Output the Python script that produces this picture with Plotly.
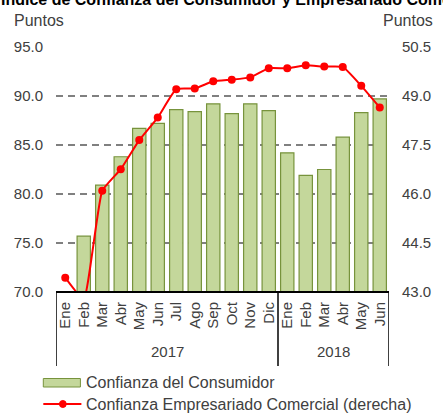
import plotly.graph_objects as go

months = ["Ene", "Feb", "Mar", "Abr", "May", "Jun", "Jul", "Ago", "Sep", "Oct", "Nov", "Dic",
          "Ene", "Feb", "Mar", "Abr", "May", "Jun"]
years = ["2017"] * 12 + ["2018"] * 6
year_labels = ["2017", "2018"]
consumidor = [69.5, 75.7, 80.9, 83.8, 86.7, 87.2, 88.6, 88.4, 89.2, 88.2, 89.2, 88.5,
              84.2, 81.9, 82.5, 85.8, 88.3, 89.7]
empresariado = [43.44, 42.78, 46.10, 46.76, 47.65, 48.34, 49.21, 49.23, 49.45, 49.50, 49.57, 49.85,
                49.85, 49.94, 49.90, 49.89, 49.31, 48.65]
left_range = [70, 95]
right_range = [43, 50.5]

xidx = list(range(len(months)))

FONT = "Liberation Sans, Arial, sans-serif"
TXT = "#404040"

fig = go.Figure()
fig.add_trace(go.Bar(
    x=xidx, y=consumidor, name="Confianza del Consumidor",
    marker=dict(color="#c4d79b", line=dict(color="#77933c", width=1.2)),
    showlegend=False,
))
fig.add_trace(go.Scatter(
    x=xidx, y=empresariado, yaxis="y2", mode="lines+markers",
    name="Confianza Empresariado Comercial (derecha)",
    line=dict(color="#ff0000", width=2, shape="spline", smoothing=0.4),
    marker=dict(color="#ff0000", size=8),
    showlegend=False,
))

def px_x(p):
    return (p - 56) / 341.0

def px_y(p):
    return (292 - p) / 245.0

shapes = []
for xv in [-0.5, 11.5, 17.5]:
    shapes.append(dict(type="line", xref="x", yref="paper", x0=xv, x1=xv,
                       y0=0, y1=px_y(366), line=dict(color="black", width=1.5)))
shapes.append(dict(type="line", xref="x", yref="paper", x0=-0.5, x1=17.5,
                   y0=0, y1=0, line=dict(color="black", width=2)))
# legend glyphs
shapes.append(dict(type="rect", xref="paper", yref="paper",
                   x0=px_x(43), x1=px_x(81), y0=px_y(378.5), y1=px_y(387),
                   fillcolor="#c4d79b", line=dict(color="#77933c", width=1)))
shapes.append(dict(type="line", xref="paper", yref="paper",
                   x0=px_x(43), x1=px_x(82), y0=px_y(404), y1=px_y(404),
                   line=dict(color="#ff0000", width=2)))
shapes.append(dict(type="circle", xref="paper", yref="paper",
                   x0=px_x(59.5), x1=px_x(66.5), y0=px_y(400.5), y1=px_y(407.5),
                   fillcolor="#ff0000", line=dict(color="#ff0000", width=1)))

annotations = [
    dict(text="Puntos", xref="paper", yref="paper", x=px_x(11), y=px_y(20),
         xanchor="left", yanchor="middle", showarrow=False,
         font=dict(family=FONT, size=16, color=TXT)),
    dict(text="Puntos", xref="paper", yref="paper", x=px_x(444), y=px_y(20),
         xanchor="right", yanchor="middle", showarrow=False,
         font=dict(family=FONT, size=16, color=TXT)),
    dict(text="<b>Índice de Confianza del Consumidor y Empresariado Comercial</b>",
         xref="paper", yref="paper", x=px_x(-2), y=px_y(10),
         xanchor="left", yanchor="bottom", showarrow=False,
         font=dict(family=FONT, size=16, color="#000000")),
    dict(text="Confianza del Consumidor", xref="paper", yref="paper",
         x=px_x(85), y=px_y(382.5), xanchor="left", yanchor="middle", showarrow=False,
         font=dict(family=FONT, size=16, color=TXT)),
    dict(text="Confianza Empresariado Comercial (derecha)", xref="paper", yref="paper",
         x=px_x(85), y=px_y(404), xanchor="left", yanchor="middle", showarrow=False,
         font=dict(family=FONT, size=16, color=TXT)),
]
for i, yl in enumerate(year_labels):
    pos = [k for k, y in enumerate(years) if y == yl]
    annotations.append(dict(text=yl, xref="x", yref="paper",
                            x=(pos[0] + pos[-1]) / 2.0, y=px_y(351),
                            xanchor="center", yanchor="middle", showarrow=False,
                            font=dict(family=FONT, size=15, color=TXT)))

fig.update_layout(
    width=443, height=413,
    margin=dict(l=56, r=46, t=47, b=121),
    plot_bgcolor="white", paper_bgcolor="white",
    bargap=0.28,
    showlegend=False,
    xaxis=dict(
        tickmode="array", tickvals=xidx, ticktext=months,
        tickangle=-90, range=[-0.5, 17.5],
        showgrid=False, zeroline=False, showline=False, ticks="",
        ticklabelstandoff=6,
        tickfont=dict(family=FONT, size=15, color=TXT),
    ),
    yaxis=dict(
        range=left_range, dtick=5, tick0=70, tickformat=".1f",
        showgrid=True, gridcolor="#808080", gridwidth=1.5, griddash="7px,5px",
        zeroline=False, showline=False, ticks="",
        ticklabelstandoff=12,
        tickfont=dict(family=FONT, size=15, color=TXT),
    ),
    yaxis2=dict(
        range=right_range, dtick=1.5, tick0=43, tickformat=".1f",
        overlaying="y", side="right", showgrid=False, zeroline=False,
        showline=False, ticks="", ticklabelstandoff=12,
        tickfont=dict(family=FONT, size=15, color=TXT),
    ),
    shapes=shapes,
    annotations=annotations,
)

fig.write_html("out.html",
               config={"displayModeBar": False},
               post_script="document.body.style.margin='0';document.body.style.overflow='hidden';")
